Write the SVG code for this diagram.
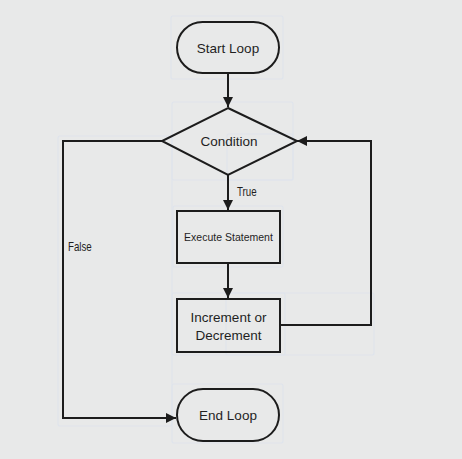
<svg xmlns="http://www.w3.org/2000/svg" width="462" height="459" viewBox="0 0 462 459">
<style>
.bg{fill:#e8e9e9}
.ghost{fill:none;stroke:#dfe4ec;stroke-width:1.2}
.shape{fill:none;stroke:#1c1c1c;stroke-width:2}
.conn{fill:none;stroke:#1c1c1c;stroke-width:2}
.t{font-family:"Liberation Sans",Arial,sans-serif;font-size:13.5px;fill:#1f1f1f;text-anchor:middle;dominant-baseline:central}
.s{font-family:"Liberation Sans",Arial,sans-serif;font-size:12.5px;fill:#1f1f1f}
</style>
<defs>
<marker id="ah" viewBox="0 0 10 10" refX="10" refY="5" markerWidth="10" markerHeight="10" markerUnits="userSpaceOnUse" orient="auto">
<path d="M0,0 L10,5 L0,10 z" fill="#1c1c1c"/>
</marker>
</defs>
<rect class="bg" width="462" height="459"/>
<g id="ghosts">
<rect class="ghost" x="171" y="16" width="112" height="63" rx="2"/>
<rect class="ghost" x="172" y="102" width="121" height="78" rx="2"/>
<rect class="ghost" x="227" y="134" width="66" height="46" rx="2"/>
<rect class="ghost" x="173" y="206" width="110" height="61" rx="2"/>
<rect class="ghost" x="172" y="293" width="113" height="62" rx="2"/>
<rect class="ghost" x="226" y="293" width="148" height="62" rx="2"/>
<rect class="ghost" x="172" y="384" width="111" height="59" rx="2"/>
<rect class="ghost" x="58" y="136" width="114" height="290" rx="2"/>
</g>
<g id="connectors">
<path class="conn" d="M228,73 V107" marker-end="url(#ah)"/>
<path class="conn" d="M228,175 V210" marker-end="url(#ah)"/>
<path class="conn" d="M228,263 V298" marker-end="url(#ah)"/>
<path class="conn" d="M280,325 H371 V141 H297" marker-end="url(#ah)"/>
<path class="conn" d="M162,141 H63 V418 H176" marker-end="url(#ah)"/>
<text class="s" x="237" y="196" transform="translate(237,0) scale(0.78,1) translate(-237,0)">True</text>
<text class="s" x="68" y="251" transform="translate(68,0) scale(0.78,1) translate(-68,0)">False</text>
</g>
<g id="start">
<rect class="shape" x="177" y="22" width="102" height="51" rx="25.5"/>
<text class="t" x="228" y="48">Start Loop</text>
</g>
<g id="condition">
<polygon class="shape" points="228,108 297,141 228,175 162,141"/>
<text class="t" x="229" y="141">Condition</text>
</g>
<g id="execute">
<rect class="shape" x="177" y="211" width="103" height="52"/>
<text class="t" x="228.5" y="237" style="font-size:11.3px" transform="translate(228.5,0) scale(0.93,1) translate(-228.5,0)">Execute Statement</text>
</g>
<g id="increment">
<rect class="shape" x="177" y="299" width="103" height="53"/>
<text class="t" x="228.5" y="317">Increment or</text>
<text class="t" x="228.5" y="335">Decrement</text>
</g>
<g id="end">
<rect class="shape" x="177" y="389" width="102" height="52" rx="26"/>
<text class="t" x="228" y="415">End Loop</text>
</g>
</svg>
